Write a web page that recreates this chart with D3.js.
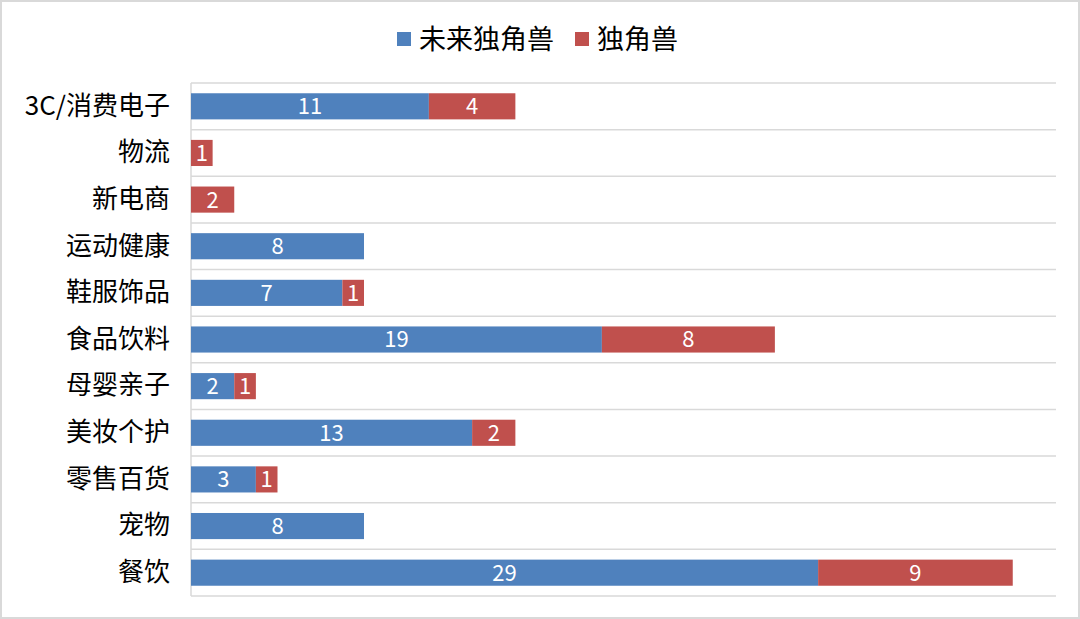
<!DOCTYPE html>
<html><head><meta charset="utf-8">
<script src="https://cdn.jsdelivr.net/npm/d3@7"></script>
<style>
html,body{margin:0;padding:0;background:#fff;}
svg{display:block;}
</style></head>
<body>
<svg id="c" width="1080" height="619"></svg>
<script>
const categories = ["3C/消费电子","物流","新电商","运动健康","鞋服饰品","食品饮料","母婴亲子","美妆个护","零售百货","宠物","餐饮"];
const futureUnicorn = [11,0,0,8,7,19,2,13,3,8,29];
const unicorn = [4,1,2,0,1,8,1,2,1,0,9];
const seriesNames = ["未来独角兽","独角兽"];
const colors = ["#4f81bd","#c0504d"];

(function(){
const svg = d3.select("#c");
const W = 1080, H = 619;
const font = "'Noto Sans CJK SC','Noto Sans',sans-serif";

svg.append("rect").attr("x",1).attr("y",1).attr("width",W-2).attr("height",H-2)
  .attr("fill","#fff").attr("stroke","#d9d9d9").attr("stroke-width",2);

const pl = 191, pr = 1056, pt = 83, pb = 596;
const x = d3.scaleLinear().domain([0,40]).range([pl,pr]);
const y = d3.scaleBand().domain(categories).range([pt,pb]).paddingInner(0.44).paddingOuter(0.22);

const step = (pb-pt)/categories.length;
const gl = d3.range(categories.length+1).map(i => pt + i*step);
svg.append("g").selectAll("line").data(gl).join("line")
  .attr("x1",pl).attr("x2",pr).attr("y1",d=>d).attr("y2",d=>d)
  .attr("stroke","#d9d9d9").attr("stroke-width",1.5);
svg.append("line").attr("x1",pl).attr("x2",pl).attr("y1",pt).attr("y2",pb)
  .attr("stroke","#d9d9d9").attr("stroke-width",1.5);

const rows = categories.map((c,i)=>({cat:c, v:[futureUnicorn[i], unicorn[i]]}));
const segs = [];
rows.forEach(r=>{
  let acc=0;
  r.v.forEach((v,k)=>{ if(v>0){ segs.push({cat:r.cat,k,x0:acc,x1:acc+v,v}); } acc+=v; });
});

const g = svg.append("g");
g.selectAll("rect").data(segs).join("rect")
  .attr("x",d=>x(d.x0)).attr("width",d=>x(d.x1)-x(d.x0))
  .attr("y",d=>y(d.cat)).attr("height",y.bandwidth())
  .attr("fill",d=>colors[d.k]);
g.selectAll("text").data(segs).join("text")
  .attr("x",d=>(x(d.x0)+x(d.x1))/2).attr("y",d=>y(d.cat)+y.bandwidth()/2)
  .attr("dy","0.36em").attr("text-anchor","middle")
  .attr("fill","#fff").attr("font-family",font).attr("font-size",22)
  .text(d=>d.v);

const yAxis = d3.axisLeft(y).tickSize(0).tickPadding(21);
const ya = svg.append("g").attr("transform",`translate(${pl},0)`).call(yAxis);
ya.select(".domain").remove();
ya.selectAll("text").attr("font-family",font).attr("font-size",26).attr("fill","#000");

const legend = svg.append("g");
const items = [{name:seriesNames[0],c:colors[0],x:397},{name:seriesNames[1],c:colors[1],x:575}];
items.forEach(it=>{
  legend.append("rect").attr("x",it.x).attr("y",32).attr("width",14).attr("height",14).attr("fill",it.c);
  legend.append("text").attr("x",it.x+22).attr("y",39).attr("dy","0.36em")
    .attr("font-family",font).attr("font-size",27).attr("fill","#000").text(it.name);
});
})();
</script>
</body></html>
